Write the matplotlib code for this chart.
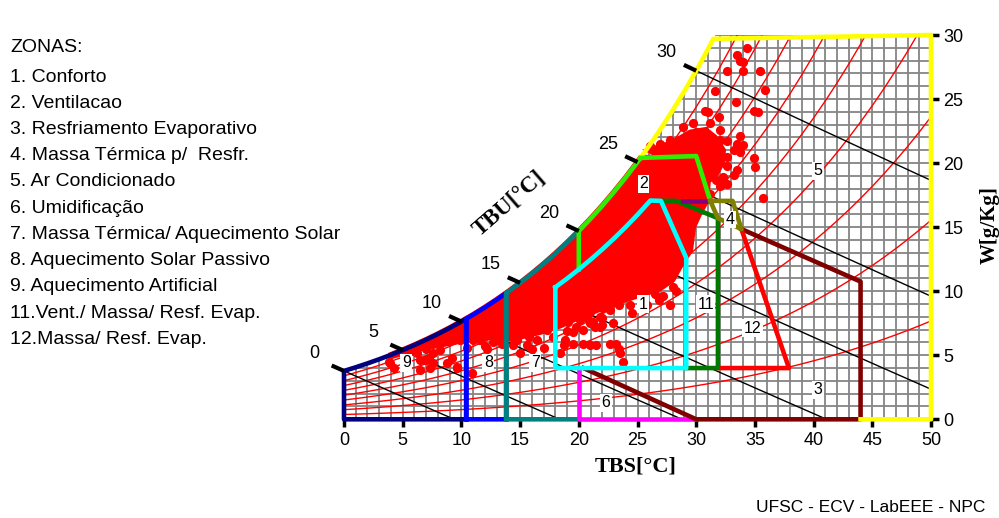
import numpy as np
import matplotlib
matplotlib.use('Agg')
import matplotlib.pyplot as plt
from matplotlib.patches import Polygon

plt.rcParams['font.family'] = ['Liberation Sans', 'DejaVu Sans']

# saturation humidity ratio [g/kg] at each TBS 0..50 C
sat_t = np.arange(0, 51)
sat_w = [3.775, 4.060, 4.364, 4.689, 5.034, 5.403, 5.795, 6.212, 6.657, 7.128,
         7.631, 8.165, 8.732, 9.334, 9.973, 10.651, 11.369, 12.131, 12.938, 13.794,
         14.700, 15.659, 16.674, 17.749, 18.885, 20.087, 21.359, 22.703, 24.124, 25.625,
         27.212, 28.887, 30.657, 32.527, 34.503, 36.587, 38.789, 41.113, 43.568, 46.160,
         48.898, 51.785, 54.838, 58.060, 61.466, 65.061, 68.856, 72.879, 77.119, 81.607,
         86.352]
rh_levels = [0.1, 0.2, 0.3, 0.4, 0.5, 0.6, 0.7, 0.8, 0.9]
tbu_levels = [0, 5, 10, 15, 20, 25, 30]

# dense part of the climate data cloud (outline)
cloud_sat_x = [4.0, 5, 6, 7, 8, 9, 10, 11, 12, 13, 14, 15, 16, 17, 18, 19, 20,
               21, 22, 23, 24, 25, 25.25]
cloud_x = [30.0, 30.6, 31.0, 30.9, 30.3, 29.75, 29.5, 28.6, 28.0, 26.9, 25.2,
           23.5, 21.8, 20.1, 18.4, 16.7, 14.4, 12.4, 10.4, 8.7, 5.9, 4.0]
cloud_w = [20.6, 19.7, 18.5, 17.1, 16.1, 15.0, 13.2, 11.9, 10.9, 10.2, 9.7,
           9.2, 8.6, 8.0, 7.3, 6.8, 6.3, 6.4, 6.2, 5.9, 5.4, 4.9]
# dense upper cluster
top_x = [26.0, 28.0, 29.5, 30.8, 31.6, 32.3, 32.2, 31.6, 31.0]
top_w = [21.0, 21.6, 22.4, 22.6, 22.0, 21.0, 20.0, 19.0, 18.6]

# isolated data points
pts_x = [34.3, 33.45, 33.7, 34.0, 32.6, 34.0, 35.4, 31.6, 33.4, 35.9, 30.75, 31.0,
         31.9, 34.9, 35.3, 31.2, 29.75, 28.9, 32.0, 30.6, 30.0, 29.2, 28.6, 27.8,
         26.9, 26.1, 31.2, 32.0, 32.6, 33.7, 33.45, 34.0, 33.2, 33.7, 32.0, 31.2,
         30.6, 32.6, 31.7, 32.6, 33.45, 34.9, 35.0, 33.2, 32.3, 31.7, 32.0, 32.6,
         35.7, 31.2, 32.0,
         29.6, 29.5, 29.2, 28.05, 27.8, 27.5, 26.5, 27.2, 27.8, 25.4, 24.4, 23.5,
         23.4, 22.7, 21.95, 21.8, 21.95, 20.95, 20.7, 20.95, 21.4, 21.8, 20.1, 19.8,
         19.5, 20.4, 18.8, 18.7, 19.5, 20.4, 20.95, 21.5, 22.7, 23.4, 23.5, 23.8,
         18.4, 17.8, 17.3, 19.1, 20.7, 21.2, 22.9, 23.2, 16.4, 15.8, 14.7, 13.6,
         12.7, 11.7, 11.0, 10.9, 9.9, 8.9, 8.2, 7.0, 7.6, 6.2, 5.3, 3.9, 9.6, 8.75,
         9.2, 7.6, 7.2, 6.5, 4.3, 13.0, 11.6, 12.2, 15.0, 15.6, 14.4, 15.0, 6.05,
         7.0, 8.2, 6.5, 7.3, 9.6, 3.8, 17.0, 16.0, 13.5, 12.0, 10.5, 24.5, 25.8,
         26.8, 28.3, 22.0, 19.0]
pts_w = [29.0, 28.4, 28.0, 27.9, 27.2, 27.2, 27.2, 25.6, 24.8, 25.7, 24.1, 24.0,
         23.6, 24.1, 24.0, 23.1, 23.1, 22.8, 22.6, 22.3, 22.45, 22.1, 21.8, 21.8,
         21.5, 21.3, 21.8, 21.8, 21.7, 22.1, 21.5, 21.4, 21.0, 20.9, 21.0, 20.8,
         21.2, 20.5, 19.85, 19.8, 19.5, 20.4, 19.7, 19.1, 18.9, 18.7, 18.2, 18.4,
         17.25, 17.6, 18.5,
         15.7, 14.8, 14.0, 10.3, 11.05, 11.1, 9.8, 9.6, 8.9, 9.3, 8.9, 9.6,
         8.9, 8.5, 8.7, 8.0, 7.4, 8.4, 7.9, 7.5, 7.2, 7.2, 7.75, 7.2,
         6.8, 7.0, 6.2, 5.8, 5.9, 5.9, 5.8, 5.8, 5.9, 5.5, 5.15, 4.5,
         5.15, 6.45, 7.0, 7.6, 8.1, 7.6, 7.5, 5.9, 6.2, 6.45, 6.2, 7.0,
         6.05, 6.8, 6.2, 3.6, 6.2, 6.6, 6.05, 5.5, 5.15, 5.15, 4.9, 4.4, 4.1, 4.4,
         4.8, 4.4, 4.8, 4.6, 4.0, 6.2, 6.2, 5.5, 5.15, 5.8, 5.8, 7.0, 5.3,
         4.6, 5.4, 3.85, 4.0, 4.0, 4.5, 5.6, 5.5, 5.9, 5.7, 5.6, 8.3, 8.9,
         9.3, 10.0, 7.9, 6.9]

# zone corner points (TBS, W)
z9_lim = [0, 10.4]
z8_lim = [10.4, 13.8]
z7_lim = [13.8, 20.0]
z6_x = [20.0, 20.0, 30.0]
z6_w = [4.0, 0.0, 0.0]
z3_x = [20.4, 30.0, 44.0, 44.0, 33.85]
z3_w = [4.0, 0.0, 0.0, 10.75, 14.85]
z1_rh_x = [18, 19, 20, 21, 22, 23, 24, 25, 26.1]
z1_x = [27.0, 29.15, 29.15, 18.0, 18.0]
z1_w = [17.05, 12.6, 4.0, 4.0, 10.3]
z2_sat = [20.0, 25.25]
z2_x = [30.0, 31.2]
z2_w = [20.55, 17.05]
z11_x = [29.15, 31.85, 31.85, 28.3, 27.0]
z11_w = [4.0, 4.0, 15.7, 17.05, 17.05]
purple_x = [28.9, 31.2]
purple_w = [17.05, 17.05]
z4_x = [31.2, 33.1, 33.85, 31.85, 31.2]
z4_w = [17.05, 17.05, 14.85, 15.7, 17.05]
z12_x = [31.85, 37.9, 33.85]
z12_w = [4.0, 4.0, 14.85]

zone_nums = ['1', '11', '12', '2', '4', '5', '3', '6', '7', '8', '9']
zone_lx = [25.5, 30.8, 34.8, 25.5, 32.9, 40.4, 40.4, 22.3, 16.3, 12.3, 5.3]
zone_lw = [9.0, 9.0, 7.1, 18.4, 15.6, 19.4, 2.3, 1.3, 4.4, 4.4, 4.4]

legend_lines = ['ZONAS:', '1. Conforto', '2. Ventilacao', '3. Resfriamento Evaporativo',
                '4. Massa Térmica p/  Resfr.', '5. Ar Condicionado', '6. Umidificação',
                '7. Massa Térmica/ Aquecimento Solar', '8. Aquecimento Solar Passivo',
                '9. Aquecimento Artificial', '11.Vent./ Massa/ Resf. Evap.',
                '12.Massa/ Resf. Evap.']

P = 101.325
sat_w = np.array(sat_w)
ps = P * sat_w / (622 + sat_w)


def sat(x):
    return np.interp(x, sat_t, sat_w)


def rh_w(x, rh):
    p = np.interp(x, sat_t, ps)
    return 622 * rh * p / (P - rh * p)


def sat_path(x0, x1):
    xs = [x0] + [t for t in sat_t if x0 < t < x1] + [x1]
    return list(xs), list(sat(np.array(xs)))


def wb_w(T, t):
    return ((2501 - 2.326 * t) * sat(t) - 1006 * (T - t)) / (2501 + 1.86 * T - 4.186 * t)


def zone_line(x, y, color):
    ax.plot(x, y, color=color, lw=3.3, zorder=5, clip_on=False)


fig = plt.figure(figsize=(9.99, 5.18), dpi=100)
ax = fig.add_axes([344 / 999, 98.7 / 518, 587 / 999, 384.3 / 518])
ax.set_xlim(0, 50)
ax.set_ylim(0, 30)
for s in ax.spines.values():
    s.set_visible(False)

# region below the saturation curve
clip_x = list(sat_t[:33]) + [32, 50, 50, 0]
clip_y = list(sat_w[:33]) + [31, 31, 0, 0]
clip = Polygon(np.column_stack([clip_x, clip_y]), closed=True, transform=ax.transData,
               fc='none', ec='none')
ax.add_patch(clip)

g1 = ax.vlines(np.arange(0, 51), 0, 30, color='#858585', lw=1.3, zorder=1)
g2 = ax.hlines(np.arange(0, 31), 0, 50, color='#858585', lw=1.3, zorder=1)
g1.set_clip_path(clip)
g2.set_clip_path(clip)

xx = np.arange(0, 51)
for rh in rh_levels:
    ax.plot(xx, rh_w(xx, rh), color='red', lw=1.0, zorder=2)

for t in tbu_levels:
    T = np.linspace(t, 50, 60)
    ax.plot(T, wb_w(T, t), color='black', lw=1.0, zorder=2)
    Tk = np.array([t - 1.05, t])
    ax.plot(Tk, wb_w(Tk, t), color='black', lw=3, solid_capstyle='butt', clip_on=False, zorder=6)
    ax.text(t - 2.5, sat(t) + 1.4, str(t), fontsize=13, ha='center', va='center', clip_on=False)

# climate data
cx, cw = sat_path(cloud_sat_x[0], cloud_sat_x[-1])
ax.add_patch(Polygon(np.column_stack([cx + cloud_x, cw + cloud_w]), closed=True,
                     fc='red', ec='red', lw=4, zorder=3))
ax.add_patch(Polygon(np.column_stack([top_x, top_w]), closed=True,
                     fc='red', ec='red', lw=4, zorder=3))
ax.scatter(pts_x, pts_w, s=44, color='red', lw=0, zorder=3)

# zone 9, 8, 7
sx, sw = sat_path(*z9_lim)
zone_line([z9_lim[1], 0] + sx, [0, 0] + sw, '#000080')
sx, sw = sat_path(*z8_lim)
zone_line([z8_lim[1], z8_lim[0]] + sx, [0, 0] + sw, '#0000ff')
zone_line([z8_lim[0], z8_lim[0]], [0, sat(z8_lim[0])], '#0000ff')
sx, sw = sat_path(*z7_lim)
zone_line([z7_lim[1], z7_lim[0]] + sx, [0, 0] + sw, '#008080')
zone_line([z7_lim[0], z7_lim[0]], [0, sat(z7_lim[0])], '#008080')
# zone 6 and 3
zone_line(z6_x, z6_w, '#ff00ff')
zone_line(z3_x, z3_w, '#800000')
# zone 5 (yellow)
sx, sw = sat_path(z2_sat[1], 31.46)
zone_line(sx + [50, 50, 44], sw + [30, 0, 0], '#ffff00')
# zone 2
sx, sw = sat_path(*z2_sat)
zone_line([z2_sat[0]] + sx + z2_x, [float(rh_w(20, 0.8))] + sw + z2_w, '#30ee00')
# zone 12, 11, 4
zone_line(z12_x, z12_w, '#ff0000')
zone_line(z11_x, z11_w, '#007800')
zone_line(purple_x, purple_w, '#800080')
zone_line(z4_x, z4_w, '#808000')
# zone 1
rx = np.array(z1_rh_x)
zone_line(list(rx) + z1_x, list(rh_w(rx, 0.8)) + z1_w, '#00ffff')

for n, lx, lyw in zip(zone_nums, zone_lx, zone_lw):
    ax.text(lx, lyw, n, fontsize=11.5, ha='center', va='center', zorder=7,
            bbox=dict(fc='white', ec='none', pad=1))

ax.set_xticks(range(0, 51, 5))
ax.set_yticks(range(0, 31, 5))
ax.yaxis.tick_right()
ax.tick_params(direction='out', length=6, width=2.5, labelsize=13, pad=3)

fig.text(636 / 999, 1 - 467 / 518, 'TBS[°C]', family='Liberation Serif', weight='bold',
         fontsize=16, ha='center', va='center')
fig.text(990 / 999, 1 - 225 / 518, 'W[g/Kg]', family='Liberation Serif', weight='bold',
         fontsize=15, ha='center', va='center', rotation=90)
ax.text(14.05, 16.9, 'TBU[°C]', family='Liberation Serif', weight='bold', fontsize=16.5,
        ha='center', va='center', rotation=41)

for i, line in enumerate(legend_lines):
    fig.text(10 / 999, 1 - (47 + i * 26.2 + (4 if i else 0)) / 518, line, fontsize=14,
             ha='left', va='center')

fig.text(985 / 999, 1 - 508 / 518, 'UFSC - ECV - LabEEE - NPC', fontsize=12.5,
         ha='right', va='center')

fig.savefig('out.png', dpi=100)
